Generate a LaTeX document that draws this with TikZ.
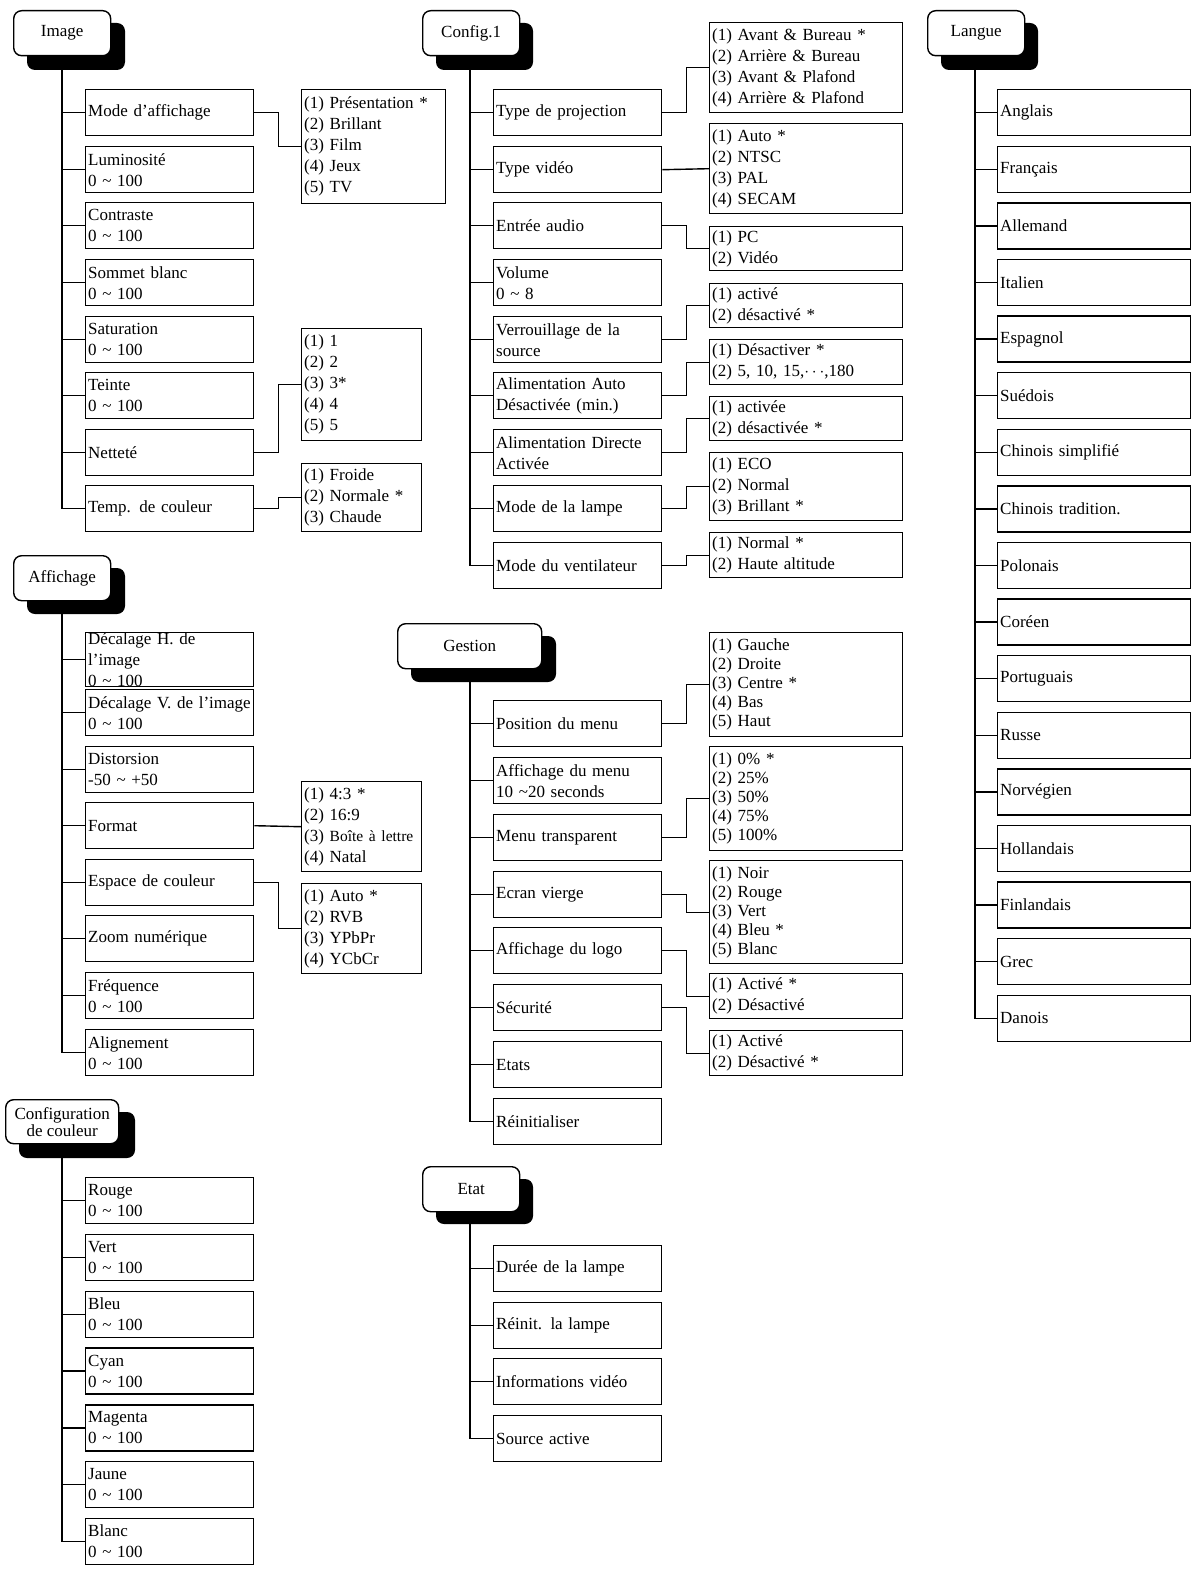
\documentclass[tikz,border=0pt]{standalone}
\usepackage{fontspec}
\setmainfont{Liberation Serif}
\begin{document}
\begin{tikzpicture}[x=1pt,y=-1pt,line width=1.4pt,
 bx/.style={draw,anchor=north west,inner xsep=2pt,inner ysep=0pt,align=left,font=\fontsize{17}{21}\selectfont},
 hdr/.style={draw,fill=white,rounded corners=8pt,anchor=north west,inner sep=0pt,font=\fontsize{17}{20}\selectfont,align=center},
 shd/.style={fill=black,rounded corners=8pt}]
\useasboundingbox (0,0) rectangle (1196,1570);
\newcommand\Bx[6]{\node[bx,minimum width=#4,minimum height=#5,text width=#4-5] (#1) at (#2,#3) {#6};}
\newcommand\Hd[8]{\fill[shd] (#5,#6) rectangle (#7,#8);\node[hdr,minimum width=#3,minimum height=#4] (#1) at (#5-14,#6-13) {#2};}
% ---------- Image
\Hd{hI}{Image}{97}{45}{27}{23}{125}{70}
\coordinate (tI) at (62,70);
\Bx{i1}{85}{89}{168}{46}{Mode d’affichage}
\Bx{i2}{85}{146}{168}{46}{Luminosité\\0 \char`\~{} 100}
\Bx{i3}{85}{202}{168}{46}{Contraste\\0 \char`\~{} 100}
\Bx{i4}{85}{259}{168}{46}{Sommet blanc\\0 \char`\~{} 100}
\Bx{i5}{85}{316}{168}{46}{Saturation\\0 \char`\~{} 100}
\Bx{i6}{85}{372}{168}{46}{Teinte\\0 \char`\~{} 100}
\Bx{i7}{85}{429}{168}{46}{Netteté}
\Bx{i8}{85}{485}{168}{46}{Temp. de couleur}
\foreach \n in {1,...,8} \draw (tI) |- (i\n.west);
\Bx{io1}{301}{89}{144}{114}{(1) Présentation *\\(2) Brillant\\(3) Film\\(4) Jeux\\(5) TV}
\Bx{io7}{301}{328}{120}{112}{(1) 1\\(2) 2\\(3) 3*\\(4) 4\\(5) 5}
\Bx{io8}{301}{463}{120}{68}{(1) Froide\\(2) Normale *\\(3) Chaude}
\draw (i1.east) -- ++(24,0) |- (io1.west);
\draw (i7.east) -- ++(24,0) |- (io7.west);
\draw (i8.east) -- ++(24,0) |- (io8.west);
% ---------- Config.1
\Hd{hC}{Config.1}{97}{45}{436}{23}{533}{70}
\coordinate (tC) at (470,70);
\Bx{c1}{493}{89}{168}{46}{Type de projection}
\Bx{c2}{493}{146}{168}{46}{Type vidéo}
\Bx{c3}{493}{202}{168}{46}{Entrée audio}
\Bx{c4}{493}{259}{168}{46}{Volume\\0 \char`\~{} 8}
\Bx{c5}{493}{316}{168}{46}{Verrouillage de la\\source}
\Bx{c6}{493}{372}{168}{46}{Alimentation Auto\\Désactivée (min.)}
\Bx{c7}{493}{429}{168}{46}{Alimentation Directe\\Activée}
\Bx{c8}{493}{485}{168}{46}{Mode de la lampe}
\Bx{c9}{493}{542}{168}{46}{Mode du ventilateur}
\foreach \n in {1,...,9} \draw (tC) |- (c\n.west);
\Bx{co1}{709}{22}{193}{90}{(1) Avant \& Bureau *\\(2) Arrière \& Bureau\\(3) Avant \& Plafond\\(4) Arrière \& Plafond}
\Bx{co2}{709}{123}{193}{90}{(1) Auto *\\(2) NTSC\\(3) PAL\\(4) SECAM}
\Bx{co3}{709}{226}{193}{44}{(1) PC\\(2) Vidéo}
\Bx{co5}{709}{283}{193}{44}{(1) activé\\(2) désactivé *}
\Bx{co6}{709}{339}{193}{45}{(1) Désactiver *\\(2) 5, 10, 15,$\cdots$,180}
\Bx{co7}{709}{396}{193}{44}{(1) activée\\(2) désactivée *}
\Bx{co8}{709}{452}{193}{68}{(1) ECO\\(2) Normal\\(3) Brillant *}
\Bx{co9}{709}{532}{193}{45}{(1) Normal *\\(2) Haute altitude}
\foreach \a/\b in {1/1,3/3,5/5,6/6,7/7,8/8,9/9} \draw (c\a.east) -- ++(24,0) |- (co\b.west);
\draw (c2.east) -- (co2.west);
% ---------- Langue
\Hd{hL}{Langue}{97}{45}{941}{23}{1038}{70}
\coordinate (tL) at (975,70);
\foreach \t [count=\k from 0] in {Anglais,Français,Allemand,Italien,Espagnol,Suédois,Chinois simplifié,Chinois tradition.,Polonais,Coréen,Portuguais,Russe,Norvégien,Hollandais,Finlandais,Grec,Danois}{
 \Bx{l\k}{997}{89+56.6*\k}{193}{46}{\t}
 \draw (tL) |- (l\k.west);}
% ---------- Affichage
\Hd{hA}{Affichage}{97}{45}{27}{568}{125}{614}
\coordinate (tA) at (62,614);
\Bx{a1}{85}{632}{168}{46}{Décalage H. de l’image\\0 \char`\~{} 100}
\Bx{a2}{85}{689}{168}{46}{Décalage V. de l’image\\0 \char`\~{} 100}
\Bx{a3}{85}{746}{168}{46}{Distorsion\\-50 \char`\~{} +50}
\Bx{a4}{85}{802}{168}{46}{Format}
\Bx{a5}{85}{859}{168}{46}{Espace de couleur}
\Bx{a6}{85}{915}{168}{46}{Zoom numérique}
\Bx{a7}{85}{972}{168}{46}{Fréquence\\0 \char`\~{} 100}
\Bx{a8}{85}{1029}{168}{46}{Alignement\\0 \char`\~{} 100}
\foreach \n in {1,...,8} \draw (tA) |- (a\n.west);
\Bx{ao4}{301}{781}{120}{90}{(1) 4:3 *\\(2) 16:9\\(3) {\fontsize{15.5}{20}\selectfont Boîte à lettre}\\(4) Natal}
\Bx{ao5}{301}{883}{120}{90}{(1) Auto *\\(2) RVB\\(3) YPbPr\\(4) YCbCr}
\draw (a4.east) -- (ao4.west);
\draw (a5.east) -- ++(24,0) |- (ao5.west);
% ---------- Configuration de couleur
\Hd{hK}{Configuration\\[-3pt]de couleur}{113}{44}{19}{1112}{135}{1158}
\coordinate (tK) at (62,1158);
\foreach \t [count=\k from 0] in {Rouge,Vert,Bleu,Cyan,Magenta,Jaune,Blanc}{
 \Bx{k\k}{85}{1177+56.8*\k}{168}{46}{\t\\0 \char`\~{} 100}
 \draw (tK) |- (k\k.west);}
% ---------- Gestion
\Hd{hG}{Gestion}{144}{45}{411}{636}{556}{682}
\coordinate (tG) at (470,682);
\Bx{g1}{493}{700}{168}{46}{Position du menu}
\Bx{g2}{493}{757}{168}{46}{Affichage du menu\\10 \char`\~20 seconds}
\Bx{g3}{493}{814}{168}{46}{Menu transparent}
\Bx{g4}{493}{871}{168}{46}{Ecran vierge}
\Bx{g5}{493}{927}{168}{46}{Affichage du logo}
\Bx{g6}{493}{984}{168}{46}{Sécurité}
\Bx{g7}{493}{1041}{168}{46}{Etats}
\Bx{g8}{493}{1098}{168}{46}{Réinitialiser}
\foreach \n in {1,...,8} \draw (tG) |- (g\n.west);
\Bx{go1}{709}{632}{193}{104}{(1) Gauche\\[-2pt](2) Droite\\[-2pt](3) Centre *\\[-2pt](4) Bas\\[-2pt](5) Haut}
\Bx{go3}{709}{746}{193}{104}{(1) 0\% *\\[-2pt](2) 25\%\\[-2pt](3) 50\%\\[-2pt](4) 75\%\\[-2pt](5) 100\%}
\Bx{go4}{709}{860}{193}{103}{(1) Noir\\[-2pt](2) Rouge\\[-2pt](3) Vert\\[-2pt](4) Bleu *\\[-2pt](5) Blanc}
\Bx{go5}{709}{973}{193}{45}{(1) Activé *\\(2) Désactivé}
\Bx{go6}{709}{1030}{193}{45}{(1) Activé\\(2) Désactivé *}
\draw (g1.east) -- ++(24,0) |- (go1.west);
\draw (g3.east) -- ++(24,0) |- (go3.west);
\draw (g4.east) -- ++(24,0) |- (go4.west);
\draw (g5.east) -- ++(24,0) |- (go5.west);
\draw (g6.east) -- ++(24,0) |- (go6.west);
% ---------- Etat
\Hd{hE}{Etat}{97}{45}{436}{1179}{533}{1224}
\coordinate (tE) at (470,1224);
\Bx{e1}{493}{1245}{168}{46}{Durée de la lampe}
\Bx{e2}{493}{1302}{168}{46}{Réinit. la lampe}
\Bx{e3}{493}{1358}{168}{46}{Informations vidéo}
\Bx{e4}{493}{1415}{168}{46}{Source active}
\foreach \n in {1,...,4} \draw (tE) |- (e\n.west);
\end{tikzpicture}
\end{document}
